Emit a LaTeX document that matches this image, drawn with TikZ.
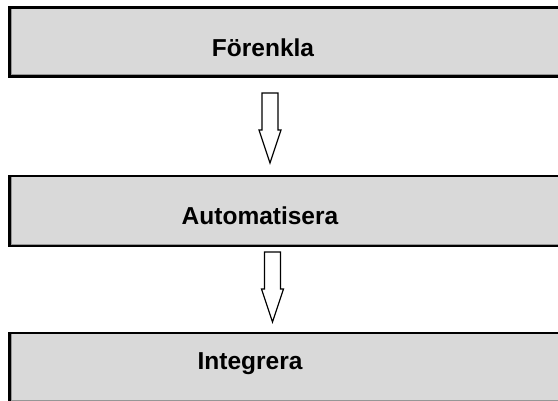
\documentclass[tikz,border=0pt]{standalone}
\usepackage{fontspec}
\setmainfont{Liberation Sans}
\begin{document}
\begin{tikzpicture}[x=1pt,y=1pt,
  stagebox/.style={draw=black,line width=2.4pt,fill=boxgray},
  stagelabel/.style={font=\fontsize{24.5}{29}\selectfont\bfseries,inner sep=0pt,anchor=base},
  arrowline/.style={draw=black,line width=1.2pt,fill=white,line join=miter},
  downarrow/.pic={
    \path[arrowline] (-8,0) -- (8,0) -- (8,-37) -- (11,-37) -- (0,-70)
      -- (-11,-37) -- (-8,-37) -- cycle;
  }]
\definecolor{boxgray}{RGB}{217,217,217}
\definecolor{edgegray}{RGB}{150,150,150}
\clip (0,0) rectangle (558,-401);
\fill[white] (0,0) rectangle (558,-401);

% three stage boxes, running off the right edge
\draw[stagebox] (9.5,-7.5) rectangle (575,-76.5);
\draw[stagebox] (9.5,-176) rectangle (575,-246);
\draw[stagebox] (9.5,-333) rectangle (575,-405);
% inner shading line on the left and bottom edges
\draw[edgegray,line width=0.9pt] (11.5,-9) -- (11.5,-74.8) -- (575,-74.8);
\draw[edgegray,line width=0.9pt] (11.5,-177.5) -- (11.5,-244.3) -- (575,-244.3);
\draw[edgegray,line width=0.9pt] (11.5,-334.5) -- (11.5,-400.3) -- (575,-400.3);

% labels
\node[stagelabel] (t1) at (263,-56.7) {Förenkla};
\node[stagelabel] (t2) at (260,-224.3) {Automatisera};
\node[stagelabel] (t3) at (250,-370) {Integrera};

% block arrows between the stages
\pic (a1) at (270,-93) {downarrow};
\pic (a2) at (272.5,-252) {downarrow};
\end{tikzpicture}
\end{document}
